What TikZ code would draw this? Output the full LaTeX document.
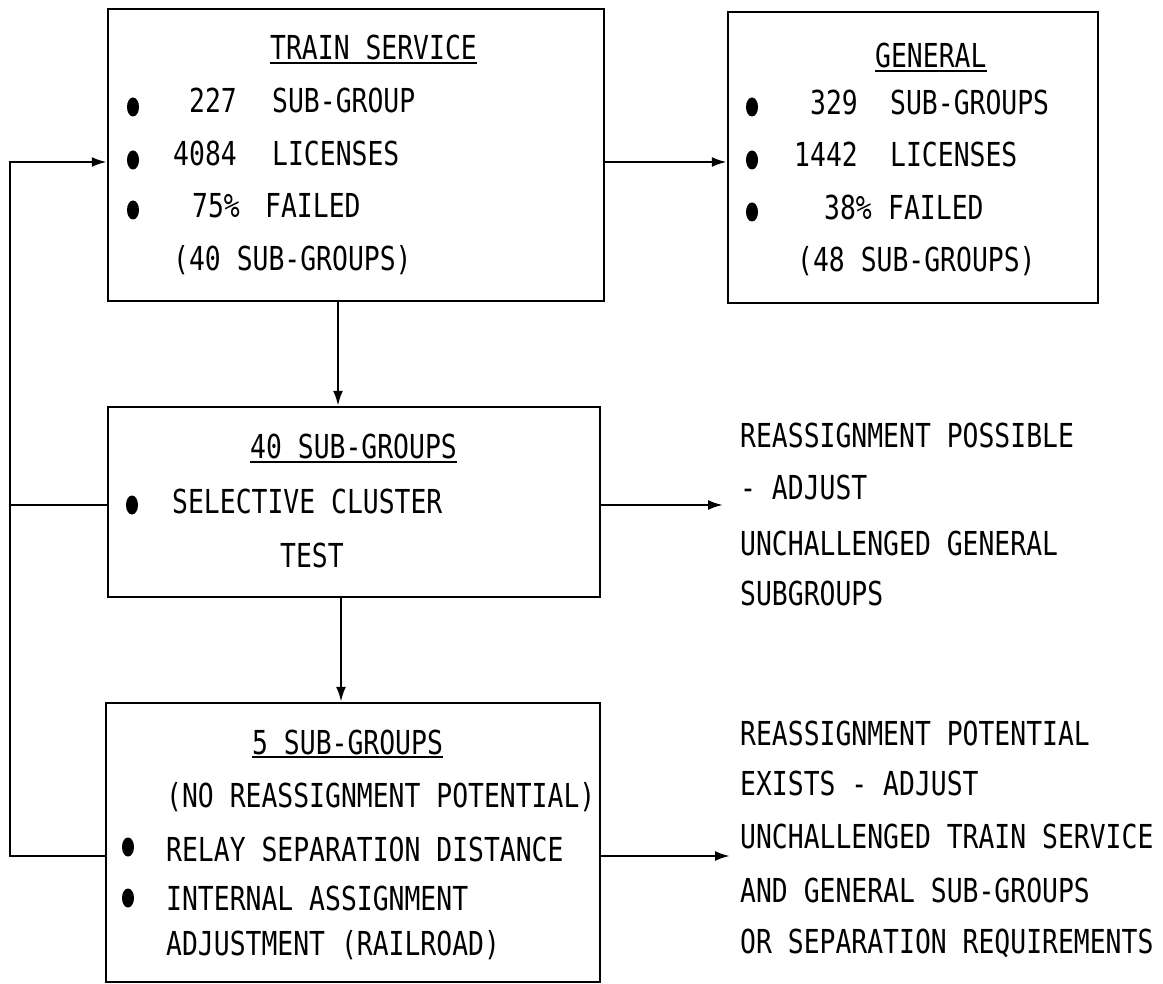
\documentclass[tikz,border=0pt]{standalone}
\usepackage{fontspec}
\newfontfamily\plotfont[FakeStretch=0.8]{DejaVu Sans Mono}
\usetikzlibrary{arrows.meta,shapes.geometric}
\begin{document}
\begin{tikzpicture}[x=1pt,y=-1pt,
  box/.style={draw,line width=2.4pt,inner sep=0pt},
  txt/.style={font=\plotfont\fontsize{33}{40}\selectfont,inner sep=0pt,anchor=base west},
  num/.style={txt,anchor=base east},
  dot/.style={ellipse,fill,inner sep=0pt,minimum width=12pt,minimum height=19pt},
  link/.style={line width=2.4pt},
  arr/.style={link,-{Latex[length=15pt,width=10pt]}},
  uline/.style={line width=2pt}]
\useasboundingbox[fill=white] (0,0) rectangle (1163,984);

% boxes
\node[box,minimum width=496pt,minimum height=292pt] (ts)   at (356,155)   {};
\node[box,minimum width=370pt,minimum height=291pt] (gen)  at (913,157.5) {};
\node[box,minimum width=492pt,minimum height=190pt] (sel)  at (354,502)   {};
\node[box,minimum width=494pt,minimum height=279pt] (five) at (353,842.5) {};

% TRAIN SERVICE box
\node[txt] (h1) at (270,60) {TRAIN SERVICE};
\draw[uline] ([yshift=-3pt]h1.base west) -- ([yshift=-3pt]h1.base east);
\node[dot] (d11) at (133,107) {};
\node[dot] (d12) at (133,160) {};
\node[dot] (d13) at (133,210) {};
\node[num] (n11) at (237,113) {227};
\node[txt] (w11) at (272,113) {SUB-GROUP};
\node[num] (n12) at (237,166) {4084};
\node[txt] (w12) at (272,166) {LICENSES};
\node[num] (n13) at (240,218) {75\%};
\node[txt] (w13) at (265,218) {FAILED};
\node[txt] (w14) at (173,271) {(40 SUB-GROUPS)};

% GENERAL box
\node[txt] (h2) at (875,68) {GENERAL};
\draw[uline] ([yshift=-3pt]h2.base west) -- ([yshift=-3pt]h2.base east);
\node[dot] (d21) at (752,107) {};
\node[dot] (d22) at (752,160) {};
\node[dot] (d23) at (752,212) {};
\node[num] (n21) at (858,115) {329};
\node[txt] (w21) at (890,115) {SUB-GROUPS};
\node[num] (n22) at (858,167) {1442};
\node[txt] (w22) at (890,167) {LICENSES};
\node[num] (n23) at (872,220) {38\%};
\node[txt] (w23) at (888,220) {FAILED};
\node[txt] (w24) at (797,272) {(48 SUB-GROUPS)};

% 40 SUB-GROUPS box
\node[txt] (h3) at (250,459) {40 SUB-GROUPS};
\draw[uline] ([yshift=-3pt]h3.base west) -- ([yshift=-3pt]h3.base east);
\node[dot] (d31) at (132,505) {};
\node[txt] (w31) at (172,513) {SELECTIVE CLUSTER};
\node[txt] (w32) at (280,567) {TEST};

% 5 SUB-GROUPS box
\node[txt] (h4) at (252,754) {5 SUB-GROUPS};
\draw[uline] ([yshift=-3pt]h4.base west) -- ([yshift=-3pt]h4.base east);
\node[txt] (w41) at (166,807) {(NO REASSIGNMENT POTENTIAL)};
\node[dot] (d41) at (128,847) {};
\node[dot] (d42) at (128,898) {};
\node[txt] (w42) at (166,861) {RELAY SEPARATION DISTANCE};
\node[txt] (w43) at (166,910) {INTERNAL ASSIGNMENT};
\node[txt] (w44) at (166,955) {ADJUSTMENT (RAILROAD)};

% outcome texts
\node[txt] (a1) at (740,448) {REASSIGNMENT POSSIBLE};
\node[txt] (a2) at (740,500) {- ADJUST};
\node[txt] (a3) at (740,555) {UNCHALLENGED GENERAL};
\node[txt] (a4) at (740,605) {SUBGROUPS};

\node[txt] (b1) at (740,745) {REASSIGNMENT POTENTIAL};
\node[txt] (b2) at (740,795) {EXISTS - ADJUST};
\node[txt] (b3) at (740,848) {UNCHALLENGED TRAIN SERVICE};
\node[txt] (b4) at (740,902) {AND GENERAL SUB-GROUPS};
\node[txt] (b5) at (740,953) {OR SEPARATION REQUIREMENTS};

% connector routing points
\coordinate (rowA) at (0,162);
\coordinate (rowB) at (0,505);
\coordinate (rowC) at (0,856);
\coordinate (colA) at (338,0);
\coordinate (colB) at (341,0);
\coordinate (lt) at (10,162);
\coordinate (lm) at (10,505);
\coordinate (lb) at (10,856);
\coordinate (e1) at (723,505);
\coordinate (e2) at (730,856);

% connectors
\draw[arr] (ts.east |- rowA) -- (gen.west |- rowA);
\draw[arr] (colA |- ts.south) -- (colA |- sel.north);
\draw[arr] (colB |- sel.south) -- (colB |- five.north);
\draw[arr] (sel.east |- rowB) -- (e1);
\draw[arr] (five.east |- rowC) -- (e2);
\draw[arr] (five.west |- rowC) -- (lb) -- (lt) -- (ts.west |- rowA);
\draw[link] (sel.west |- rowB) -- (lm);
\end{tikzpicture}
\end{document}
